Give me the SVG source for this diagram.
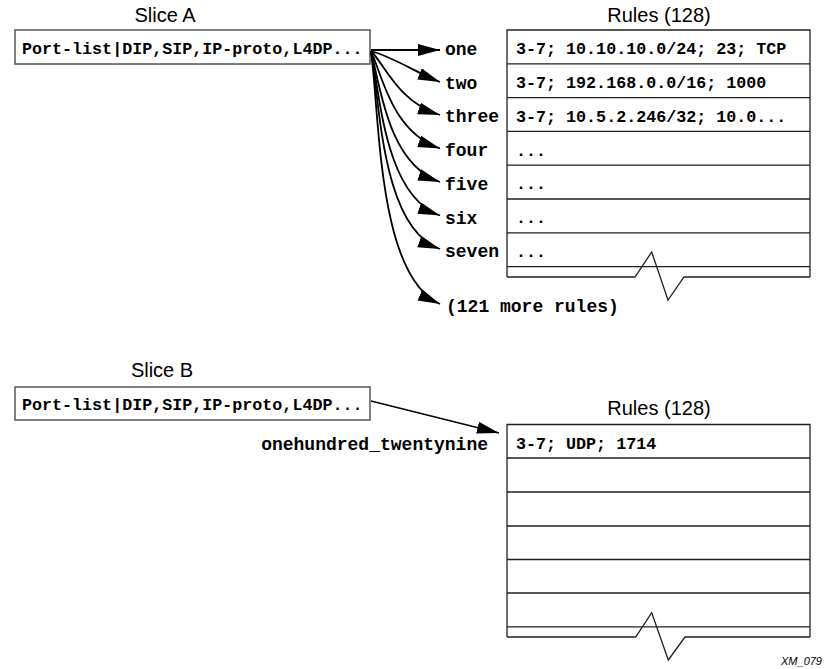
<svg xmlns="http://www.w3.org/2000/svg" width="825" height="669" viewBox="0 0 825 669">
<style>
.title{font-family:"Liberation Sans",Arial,sans-serif;font-size:20px;fill:#000}
.box{fill:#fff;stroke:#555;stroke-width:1.5}
.mono{font-family:"Liberation Mono","Courier New",monospace;font-weight:bold;font-size:16.7px;fill:#000}
.lbl{font-family:"Liberation Mono","Courier New",monospace;font-weight:bold;font-size:18px;fill:#000}
.tbl{fill:none;stroke:#222;stroke-width:1.3}
.conn{fill:none;stroke:#000;stroke-width:1.8;marker-end:url(#ah)}
.note{font-family:"Liberation Sans",Arial,sans-serif;font-style:italic;font-size:11px;fill:#000}
</style>
<defs>
<marker id="ah" markerUnits="userSpaceOnUse" markerWidth="23" markerHeight="13" refX="22" refY="6" orient="auto" viewBox="0 0 23 13">
<path d="M0,0 L22,6 L0,12 Z" fill="#000"/>
</marker>
</defs>
<rect width="825" height="669" fill="#fff"/>

<g id="sliceA">
<text class="title" x="165" y="22" text-anchor="middle">Slice A</text>
<rect class="box" x="15" y="30" width="355" height="34"/>
<text class="mono" x="22" y="54">Port-list|DIP,SIP,IP-proto,L4DP...</text>
</g>

<g id="rulesA">
<text class="title" x="659" y="22" text-anchor="middle">Rules (128)</text>
<path class="tbl" d="M507,277 L507,30 L810,30 L810,277 M507,63.8 H810 M507,97.6 H810 M507,131.4 H810 M507,165.2 H810 M507,199 H810 M507,232.8 H810 M507,266.6 H810 M507,277 L635,277 L651.7,252 L668,300 L684,277 L810,277"/>
<text class="mono" x="516" y="54">3-7; 10.10.10.0/24; 23; TCP</text>
<text class="mono" x="516" y="88">3-7; 192.168.0.0/16; 1000</text>
<text class="mono" x="516" y="121.5">3-7; 10.5.2.246/32; 10.0...</text>
<text class="mono" x="516" y="155.5">...</text>
<text class="mono" x="516" y="189">...</text>
<text class="mono" x="516" y="223">...</text>
<text class="mono" x="516" y="257">...</text>
</g>

<g id="labelsA">
<text class="lbl" x="445" y="55">one</text>
<text class="lbl" x="445" y="88.5">two</text>
<text class="lbl" x="445" y="122">three</text>
<text class="lbl" x="445" y="156">four</text>
<text class="lbl" x="445" y="189.5">five</text>
<text class="lbl" x="445" y="223.5">six</text>
<text class="lbl" x="445" y="257">seven</text>
<text class="lbl" x="446" y="312">(121 more rules)</text>
</g>

<g id="sliceB">
<text class="title" x="162" y="377" text-anchor="middle">Slice B</text>
<rect class="box" x="15" y="387" width="355" height="33"/>
<text class="mono" x="22" y="410">Port-list|DIP,SIP,IP-proto,L4DP...</text>
</g>

<g id="rulesB">
<text class="title" x="659" y="415" text-anchor="middle">Rules (128)</text>
<path class="tbl" d="M507,637 L507,424.5 L810,424.5 L810,637 M507,458 H810 M507,492 H810 M507,526 H810 M507,559.5 H810 M507,593 H810 M507,626.8 H810 M507,637 L635.7,637 L651.7,612.7 L668.3,660 L685,637 L810,637"/>
<text class="mono" x="516" y="449">3-7; UDP; 1714</text>
</g>

<g id="labelB">
<text class="lbl" x="488" y="450" text-anchor="end">onehundred_twentynine</text>
</g>

<g id="connectors">
<path class="conn" d="M371,50 L440,50"/>
<path class="conn" d="M371,51 C395,58 415,72 440,82"/>
<path class="conn" d="M371,51 C385,65 398,102 440,115"/>
<path class="conn" d="M371,51 C382,75 392,132 440,148.5"/>
<path class="conn" d="M371,51 C380,85 388,164 440,182"/>
<path class="conn" d="M371,51 C380,95 385,196 440,215.5"/>
<path class="conn" d="M371,51 C380,105 382,228 440,249"/>
<path class="conn" d="M371,51 C380,120 378,276 440,304"/>
<path class="conn" d="M371,401 L499,433"/>
</g>

<text class="note" x="822" y="665" text-anchor="end">XM_079</text>
</svg>
